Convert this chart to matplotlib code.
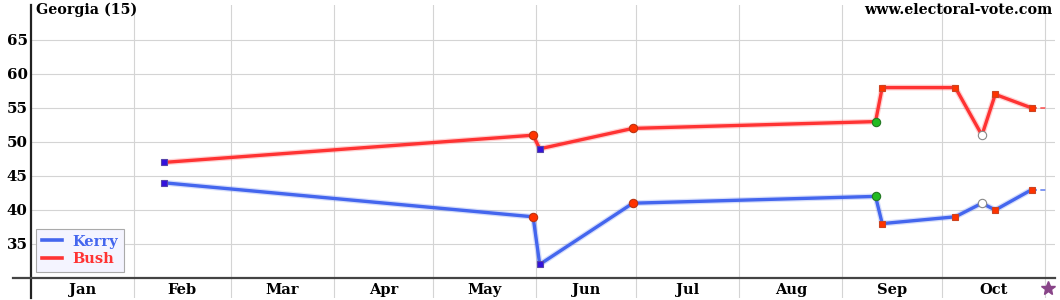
import matplotlib
matplotlib.use("Agg")
import matplotlib.pyplot as plt
import matplotlib.dates as mdates
from matplotlib.lines import Line2D
import datetime as dt

# ---- data ----
poll_dates = ["2004-02-10", "2004-05-31", "2004-06-02", "2004-06-30", "2004-09-11",
              "2004-09-13", "2004-10-05", "2004-10-13", "2004-10-17", "2004-10-28"]
kerry = [44, 39, 32, 41, 42, 38, 39, 41, 40, 43]
bush = [47, 51, 49, 52, 53, 58, 58, 51, 57, 55]
marker_kind = ["bsq", "rci", "bsq", "rci", "gci", "rsq", "rsq", "oci", "rsq", "rsq"]
election_day = "2004-11-02"
month_labels = ["Jan", "Feb", "Mar", "Apr", "May", "Jun", "Jul", "Aug", "Sep", "Oct"]
y_ticks = [35, 40, 45, 50, 55, 60, 65]
title = "Georgia (15)"
site = "www.electoral-vote.com"

# ---- figure ----
W, H = 1060, 300
fig = plt.figure(figsize=(W / 100, H / 100), dpi=100)
ax = fig.add_axes([31 / W, 2 / H, (1055 - 31) / W, 293 / H])

def yval(py):
    return 65 - (py - 40) / 6.8

x0 = mdates.date2num(dt.datetime(2004, 1, 1))
ax.set_xlim(x0, x0 + 1024 / 3.325)
ax.set_ylim(yval(298), yval(5))

FONT = dict(family="DejaVu Serif", weight="bold")

# grid
grid_c = "#d4d4d4"
for v in y_ticks:
    ax.axhline(v, color=grid_c, lw=0.8, zorder=0)
for m in range(2, 12):
    ax.axvline(mdates.date2num(dt.datetime(2004, m, 1)), color=grid_c, lw=0.8, zorder=0)

# axes lines
for s in ["top", "right", "bottom"]:
    ax.spines[s].set_visible(False)
ax.spines["left"].set_color("#222222")
ax.spines["left"].set_linewidth(1.6)
ax.plot([-18 / 1024, 1], [30, 30], transform=ax.get_yaxis_transform(), clip_on=False,
        color="#444444", lw=1.6, zorder=3)

ax.set_xticks([])
ax.set_yticks(y_ticks)
ax.set_yticklabels([str(v) for v in y_ticks], fontdict=dict(size=10.8, **FONT))
ax.tick_params(axis="y", length=0, pad=2.5)

# month labels
for i, name in enumerate(month_labels):
    a = mdates.date2num(dt.datetime(2004, i + 1, 1))
    b = mdates.date2num(dt.datetime(2004, i + 2, 1))
    ax.text((a + b) / 2, yval(290), name, ha="center", va="center", size=10.5, **FONT)

xs = [mdates.date2num(dt.datetime.strptime(d, "%Y-%m-%d")) for d in poll_dates]
xe = mdates.date2num(dt.datetime.strptime(election_day, "%Y-%m-%d"))

kc, bc = "#4466ee", "#ff3333"
for vals, c in [(kerry, kc), (bush, bc)]:
    ax.plot(xs, vals, color=c, lw=4.2, alpha=0.22, solid_capstyle="round", zorder=4)
    ax.plot(xs, vals, color=c, lw=2.4, solid_capstyle="round", zorder=5)
    ax.plot([xs[-1], xe], [vals[-1], vals[-1]], color=c, lw=1.2, ls=(0, (3, 2)), alpha=0.8, zorder=4)

styles = {
    "bsq": dict(marker="s", ms=5, mfc="#3311dd", mec="#5544aa"),
    "rci": dict(marker="o", ms=6, mfc="#ff3300", mec="#bb3311"),
    "gci": dict(marker="o", ms=6, mfc="#22bb22", mec="#227722"),
    "rsq": dict(marker="s", ms=5, mfc="#ff3300", mec="#cc4422"),
    "oci": dict(marker="o", ms=6, mfc="white", mec="#888888"),
}
for x, k, b, kind in zip(xs, kerry, bush, marker_kind):
    st = styles[kind]
    ax.plot([x], [k], ls="none", mew=0.8, zorder=6, **st)
    ax.plot([x], [b], ls="none", mew=0.8, zorder=6, **st)

# election star
ax.plot([xe], [yval(288)], marker="*", ms=10, color="#884488", ls="none", clip_on=False, zorder=6)

# titles
fig.text(36 / W, 1 - 10 / H, title, ha="left", va="center", size=10.3, **FONT)
fig.text(1052 / W, 1 - 10 / H, site, ha="right", va="center", size=10.3, **FONT)

# legend
handles = [Line2D([], [], color=kc, lw=2.6), Line2D([], [], color=bc, lw=2.6)]
leg = ax.legend(handles, ["Kerry", "Bush"], loc="lower left",
                bbox_to_anchor=(36 / W, (300 - 272) / H), bbox_transform=fig.transFigure,
                prop=dict(size=10.5, **FONT), labelcolor=[kc, bc], frameon=True,
                fancybox=False, borderaxespad=0, handlelength=1.35, handletextpad=0.75,
                borderpad=0.4, labelspacing=0.25)
leg.get_frame().set_facecolor("#f4f4ff")
leg.get_frame().set_edgecolor("#aaaaaa")
leg.get_frame().set_linewidth(0.8)
leg.get_frame().set_alpha(1)
leg.set_zorder(10)

fig.savefig("out.png", dpi=100)
